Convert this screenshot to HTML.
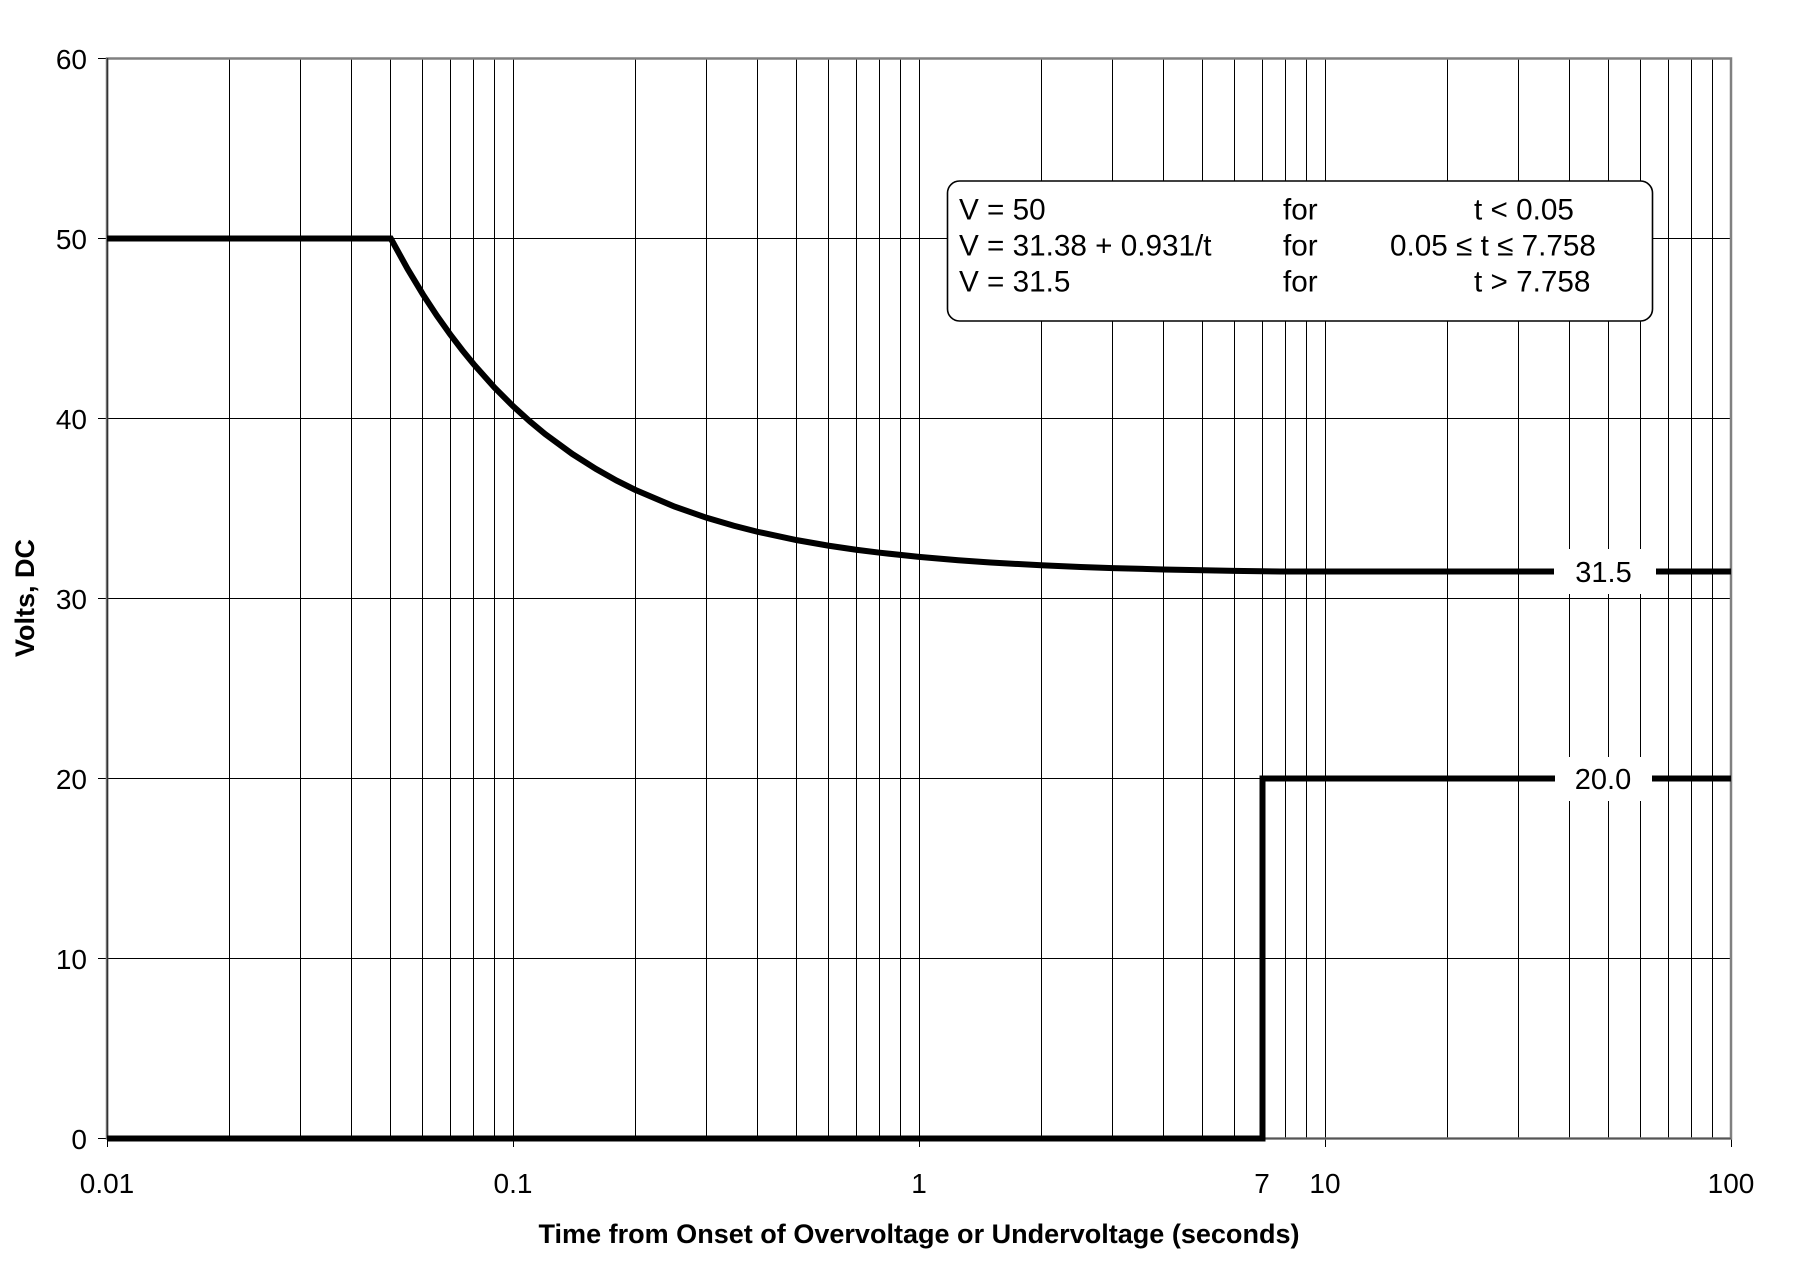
<!DOCTYPE html>
<html>
<head>
<meta charset="utf-8">
<style>
html,body{margin:0;padding:0;background:#fff;}
svg{display:block;}
text{font-family:"Liberation Sans",Arial,sans-serif;fill:#000;}
</style>
</head>
<body>
<svg width="1815" height="1273" viewBox="0 0 1815 1273" xmlns="http://www.w3.org/2000/svg">
<rect width="1815" height="1273" fill="#fff"/>
<!-- vertical gridlines -->
<g stroke="#000" stroke-width="1" shape-rendering="crispEdges">
<path d="M229.5 58.5V1138.5M300.5 58.5V1138.5M351.5 58.5V1138.5M390.5 58.5V1138.5M422.5 58.5V1138.5M450.5 58.5V1138.5M473.5 58.5V1138.5M494.5 58.5V1138.5M513.5 58.5V1138.5
M635.5 58.5V1138.5M706.5 58.5V1138.5M757.5 58.5V1138.5M796.5 58.5V1138.5M828.5 58.5V1138.5M856.5 58.5V1138.5M879.5 58.5V1138.5M900.5 58.5V1138.5M919.5 58.5V1138.5
M1041.5 58.5V1138.5M1112.5 58.5V1138.5M1163.5 58.5V1138.5M1202.5 58.5V1138.5M1234.5 58.5V1138.5M1262.5 58.5V1138.5M1285.5 58.5V1138.5M1306.5 58.5V1138.5M1325.5 58.5V1138.5
M1447.5 58.5V1138.5M1518.5 58.5V1138.5M1569.5 58.5V1138.5M1608.5 58.5V1138.5M1640.5 58.5V1138.5M1668.5 58.5V1138.5M1691.5 58.5V1138.5M1712.5 58.5V1138.5"/>
<!-- horizontal gridlines -->
<path d="M107 238.5H1731M107 418.5H1731M107 598.5H1731M107 778.5H1731M107 958.5H1731"/>
<!-- ticks -->
<path d="M98 58.5H107M98 238.5H107M98 418.5H107M98 598.5H107M98 778.5H107M98 958.5H107M98 1138.5H107"/>
<path d="M107.5 1138V1147M513.5 1138V1147M919.5 1138V1147M1325.5 1138V1147M1731.5 1138V1147"/>
</g>
<!-- frame -->
<rect x="107" y="58.5" width="1624" height="1080" fill="none" stroke="#808080" stroke-width="2.5"/>
<path d="M107.5 58V1139" stroke="#333" stroke-width="1.5"/>
<path d="M107 1138.5H1731" stroke="#555" stroke-width="1.5"/>

<!-- equation box -->
<rect x="947.5" y="181" width="705" height="140" rx="12" ry="12" fill="#fff" stroke="#000" stroke-width="1.6"/>
<g font-size="29.7">
<text x="959" y="219.5">V = 50</text>
<text x="1283" y="219.5">for</text>
<text x="1474" y="219.5">t &lt; 0.05</text>
<text x="959" y="255.5">V = 31.38 + 0.931/t</text>
<text x="1283" y="255.5">for</text>
<text x="1390" y="255.5">0.05 ≤ t ≤ 7.758</text>
<text x="959" y="291.5">V = 31.5</text>
<text x="1283" y="291.5">for</text>
<text x="1474" y="291.5">t &gt; 7.758</text>
</g>

<!-- label boxes -->
<rect x="1554" y="549" width="102" height="45" fill="#fff"/>
<rect x="1554" y="757" width="98" height="44" fill="#fff"/>

<!-- series -->
<g fill="none" stroke="#000" stroke-width="6" stroke-linejoin="miter" stroke-linecap="butt">
<path d="M107 238.5L390.8 238.5L407.6 268.97L422.9 294.36L437.0 315.84L450.1 334.26L462.3 350.22L473.7 364.19L494.4 387.46L513 406.08L529.8 421.31L545.1 434.01L572.3 453.96L595.9 468.92L616.6 480.56L635.2 489.87L674.6 506.63L706.7 517.8L733.9 525.78L757.4 531.76L796.8 540.14L828.9 545.73L856.1 549.72L879.7 552.71L919 556.9L958.3 560.25L990.5 562.49L1041.2 565.28L1080.6 566.96L1112.7 568.07L1163.4 569.47L1202.8 570.31L1234.9 570.87L1262.1 571.27L1280.3 571.5L1554 571.5"/>
<path d="M1656 571.5H1731"/>
<path d="M107 1138.5H1262.5V778.5H1555"/>
<path d="M1652 778.5H1731"/>
</g>

<text x="1603.5" y="582" font-size="29" text-anchor="middle">31.5</text>
<text x="1603" y="789" font-size="29" text-anchor="middle">20.0</text>

<!-- y tick labels -->
<g font-size="28" text-anchor="end">
<text x="87" y="69">60</text>
<text x="87" y="249">50</text>
<text x="87" y="429">40</text>
<text x="87" y="609">30</text>
<text x="87" y="789">20</text>
<text x="87" y="969">10</text>
<text x="87" y="1149">0</text>
</g>
<!-- x tick labels -->
<g font-size="28" text-anchor="middle">
<text x="107" y="1193">0.01</text>
<text x="513" y="1193">0.1</text>
<text x="919" y="1193">1</text>
<text x="1262" y="1193">7</text>
<text x="1325" y="1193">10</text>
<text x="1731" y="1193">100</text>
</g>

<!-- axis titles -->
<text x="919" y="1243" font-size="27" font-weight="bold" text-anchor="middle" textLength="761" lengthAdjust="spacingAndGlyphs">Time from Onset of Overvoltage or Undervoltage (seconds)</text>
<text transform="translate(34,598) rotate(-90)" font-size="27" font-weight="bold" text-anchor="middle">Volts, DC</text>
</svg>
</body>
</html>
